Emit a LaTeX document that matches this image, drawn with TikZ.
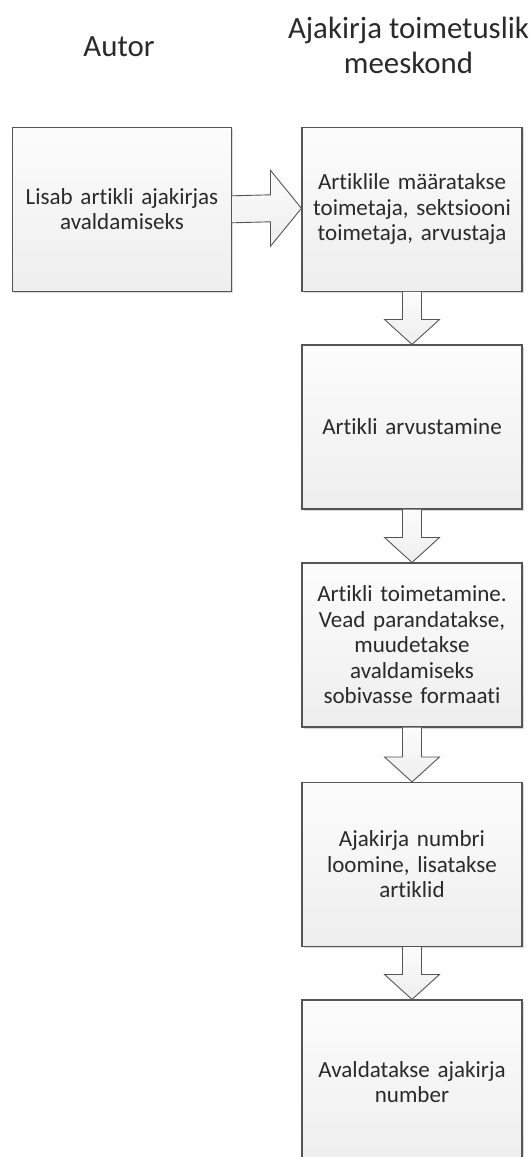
\documentclass[tikz,border=0pt]{standalone}
\usepackage{fontspec}
\setmainfont{Carlito}[Ligatures=NoCommon]
\usetikzlibrary{calc,shadows}
\definecolor{inkgray}{HTML}{2A2A2A}
\definecolor{edgegray}{HTML}{555555}
\definecolor{filltop}{HTML}{FCFCFC}
\definecolor{fillbot}{HTML}{EEEEEE}
\newlength\calwa
\newlength\calwb
\newlength\calwc
\newlength\calwf
% font sizes and word spaces chosen so that sample words get their intended widths
\AtBeginDocument{%
  \settowidth\calwa{\fontsize{10}{12}\selectfont avaldamiseks}%
  \settowidth\calwb{\fontsize{10}{12}\selectfont muudetakse}%
  \settowidth\calwc{\fontsize{10}{12}\selectfont sobivasseformaati}%
  \settowidth\calwf{\fontsize{10}{12}\selectfont Ajakirja toimetuslik}%
  \pgfmathsetmacro\boxfs{10*239/(\calwa+\calwb)}\global\let\boxfs\boxfs
  \pgfmathsetmacro\boxsp{max(1.5,189-\boxfs/10*\calwc)}\global\let\boxsp\boxsp
  \pgfmathsetmacro\headfs{10*241/\calwf}\global\let\headfs\headfs}
\newcommand\boxtextfont{\fontsize{\boxfs}{25.5}\selectfont\spaceskip\boxsp pt\relax}
\newcommand\headtextfont{\fontsize{\headfs}{35}\selectfont}
\tikzset{
  stepbox/.style={draw=edgegray, line width=1.1pt, top color=filltop, bottom color=fillbot,
    minimum width=220pt, minimum height=164pt, inner sep=2pt, text width=214pt,
    align=center, text=inkgray, font=\boxtextfont,
    drop shadow={shadow xshift=1.5pt, shadow yshift=-1.5pt, opacity=0.15, fill=black}},
  lanehead/.style={align=center, text=inkgray, font=\headtextfont},
  flowarrow/.style={draw=edgegray, line width=0.9pt, top color=filltop, bottom color=fillbot, line join=miter}
}
% vertical block arrow from the bottom of one box to the top of the next
\newcommand\vflow[2]{%
  \draw[flowarrow] ($(#1.south)+(-9.5,0)$) -- ($(#2.north)+(-9.5,-25)$)
    -- ($(#2.north)+(-27.5,-25)$) -- (#2.north) -- ($(#2.north)+(27.5,-25)$)
    -- ($(#2.north)+(9.5,-25)$) -- ($(#1.south)+(9.5,0)$);}
\begin{document}
\begin{tikzpicture}[x=1pt, y=-1pt]
  \useasboundingbox (0,0) rectangle (532,1157);
  \fill[white] (0,0) rectangle (532,1157);

  % lane headings
  \node[lanehead] (hauthor) at (119,47) {Autor};
  \node[lanehead] (hteam) at (408.5,45.5) {Ajakirja toimetuslik\\meeskond};

  % process boxes
  \node[stepbox, minimum width=219pt] (submit) at (122,209.3) {Lisab artikli ajakirjas\\avaldamiseks};
  \node[stepbox] (assign) at (412,209.3) {Artiklile määratakse\\toimetaja, sektsiooni\\toimetaja, arvustaja};
  \node[stepbox] (review) at (412,427) {Artikli arvustamine};
  \node[stepbox] (edit) at (412,645) {Artikli toimetamine.\\Vead parandatakse,\\muudetakse\\avaldamiseks\\sobivasse formaati};
  \node[stepbox] (issue) at (412,864.5) {Ajakirja numbri\\loomine, lisatakse\\artiklid};
  \node[stepbox] (publish) at (412,1082) {Avaldatakse ajakirja\\number};

  % horizontal block arrow between the lanes
  \draw[flowarrow] ($(submit.east)+(0,-13.5)$) -- ($(assign.west)+(-31,-14.5)$)
    -- ($(assign.west)+(-31,-39)$) -- ($(assign.west)+(0,-1)$)
    -- ($(assign.west)+(-31,37)$) -- ($(assign.west)+(-31,12.5)$)
    -- ($(submit.east)+(0,13.5)$);

  % vertical block arrows down the editorial lane
  \vflow{assign}{review}
  \vflow{review}{edit}
  \vflow{edit}{issue}
  \vflow{issue}{publish}
\end{tikzpicture}
\end{document}
